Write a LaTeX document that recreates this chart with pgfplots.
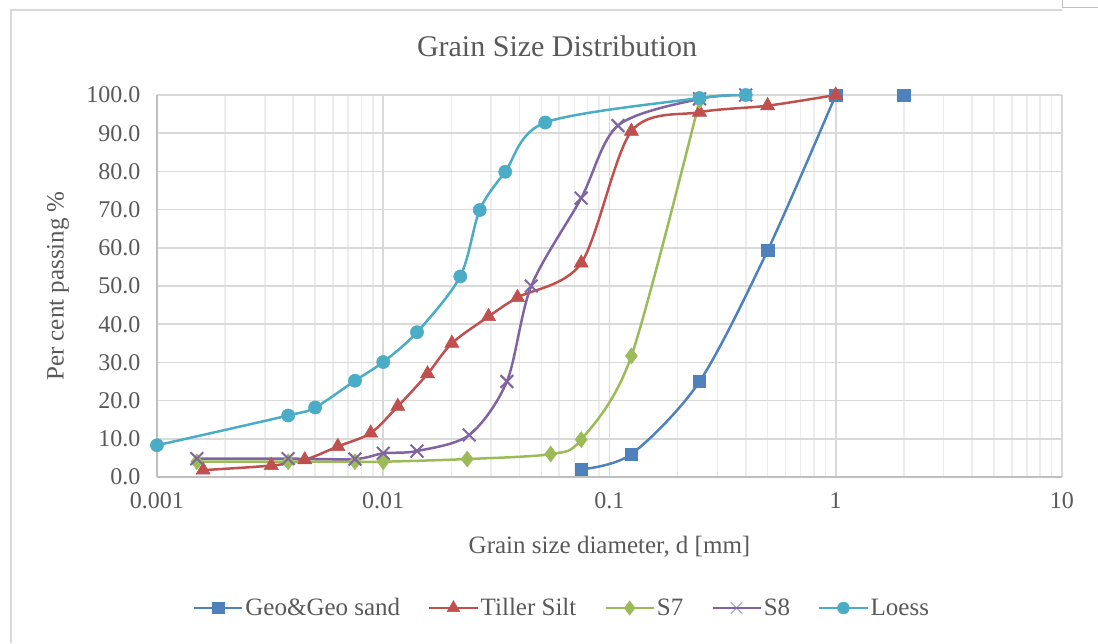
\documentclass[border=0pt]{standalone}
\usepackage{fontspec}
\setmainfont{Liberation Serif}
\usepackage{pgfplots}
\pgfplotsset{compat=1.18}

\definecolor{cGeo}{HTML}{4F81BD}
\definecolor{cTil}{HTML}{C0504D}
\definecolor{cSs}{HTML}{9BBB59}
\definecolor{cSe}{HTML}{8064A2}
\definecolor{cLoe}{HTML}{4BACC6}
\definecolor{txt}{HTML}{595959}
\definecolor{gmaj}{HTML}{D9D9D9}
\definecolor{gmin}{HTML}{EDEDED}
\definecolor{axc}{HTML}{BFBFBF}

\begin{document}
\begin{tikzpicture}[x=1pt,y=1pt]
\useasboundingbox (0,0) rectangle (1098,643);
% page frame of the screenshot
\draw[color=gmaj, line width=1.5pt] (11,0) -- (11,633) -- (1062,633);
\draw[color=axc, line width=1pt] (1062,643) -- (1062,635) -- (1098,635);

\begin{axis}[
    at={(157pt,166pt)}, anchor=south west,
    scale only axis, width=905pt, height=382pt,
    xmode=log, xmin=0.001, xmax=10, ymin=0, ymax=100,
    xtick={0.001,0.01,0.1,1,10},
    xticklabels={0.001,0.01,0.1,1,10},
    minor xtick={0.002,0.003,0.004,0.005,0.006,0.007,0.008,0.009,
                 0.02,0.03,0.04,0.05,0.06,0.07,0.08,0.09,
                 0.2,0.3,0.4,0.5,0.6,0.7,0.8,0.9,
                 2,3,4,5,6,7,8,9},
    ytick={0,10,...,100},
    grid=both,
    major grid style={color=gmaj, line width=1.6pt},
    minor grid style={color=gmin, line width=1.6pt},
    axis x line*=bottom, axis y line*=left,
    axis line style={color=axc, line width=1.6pt},
    major tick length=0pt, minor tick length=0pt,
    /pgf/number format/assume math mode=true,
    tick label style={font=\fontsize{24pt}{26pt}\selectfont, text=txt},
    yticklabel style={/pgf/number format/.cd, fixed, fixed zerofill, precision=1, /tikz/.cd, xshift=-13pt},
    xticklabel style={yshift=-12pt},
    title={Grain Size Distribution},
    title style={at={(0.442,1.113)}, anchor=center, font=\fontsize{30pt}{34pt}\selectfont, text=txt},
    xlabel={Grain size diameter, d [mm]},
    xlabel style={at={(0.5,-0.182)}, anchor=center, font=\fontsize{25pt}{28pt}\selectfont, text=txt},
    ylabel={Per cent passing \%},
    ylabel style={at={(-0.1094,0.5)}, anchor=center, rotate=0, font=\fontsize{25pt}{28pt}\selectfont, text=txt},
    legend style={at={(0.4475,-0.343)}, anchor=center, draw=none, fill=none,
        font=\fontsize{25pt}{28pt}\selectfont, text=txt,
        /tikz/every even column/.append style={column sep=26pt}},
    legend columns=5,
    legend image code/.code={\draw[mark repeat=2, mark phase=2, mark options={scale=0.9, line width=0.5pt}]
        plot coordinates {(0pt,0pt) (24pt,0pt) (48pt,0pt)};},
    every axis plot/.append style={line width=2.5pt, smooth},
]
% Geo&Geo sand
\addplot[color=cGeo, mark=square*, mark size=6.2pt, mark options={line width=0.5pt}]
coordinates {(0.075,2)(0.125,6)(0.25,25)(0.5,59.3)(1,100)};
\addlegendentry{Geo\&Geo sand}
% Tiller Silt
\addplot[color=cTil, mark=triangle*, mark size=8.2pt, mark options={line width=0.5pt}]
coordinates {(0.0016,1.8)(0.0032,3.0)(0.0045,4.5)(0.0063,8)(0.0088,11.5)(0.0116,18.5)
  (0.0157,27)(0.0201,35)(0.0292,42)(0.0392,47)(0.075,56)(0.125,90.5)(0.25,95.5)(0.5,97.2)(1,100)};
\addlegendentry{Tiller Silt}
% S7
\addplot[color=cSs, mark=diamond*, mark size=8pt, mark options={line width=0.5pt}]
coordinates {(0.0015,4)(0.0038,4)(0.0075,4)(0.01,4)(0.0235,4.7)(0.055,6)(0.075,9.8)(0.125,31.7)(0.25,98.5)};
\addlegendentry{S7}
% S8
\addplot[color=cSe, mark=x, mark size=9pt, mark options={line width=2pt}]
coordinates {(0.0015,4.8)(0.0038,4.8)(0.0075,4.7)(0.01,6.2)(0.0141,6.8)(0.024,11)(0.0352,25)
  (0.0451,50)(0.075,73)(0.109,92)(0.25,99)(0.4,100)};
\addlegendentry{S8}
% Loess
\addplot[color=cLoe, mark=*, mark size=6.6pt, mark options={line width=0.5pt}]
coordinates {(0.001,8.3)(0.0038,16.1)(0.005,18.2)(0.0075,25.2)(0.01,30.1)(0.0141,37.9)
  (0.0219,52.5)(0.0267,69.9)(0.0346,79.9)(0.052,92.8)(0.25,99.2)(0.4,100)};
\addlegendentry{Loess}
% Geo&Geo sand point not joined to the curve
\addplot[color=cGeo, only marks, mark=square*, mark size=6.2pt, mark options={line width=0.5pt}, forget plot]
coordinates {(2,100)};
\end{axis}
\end{tikzpicture}
\end{document}
